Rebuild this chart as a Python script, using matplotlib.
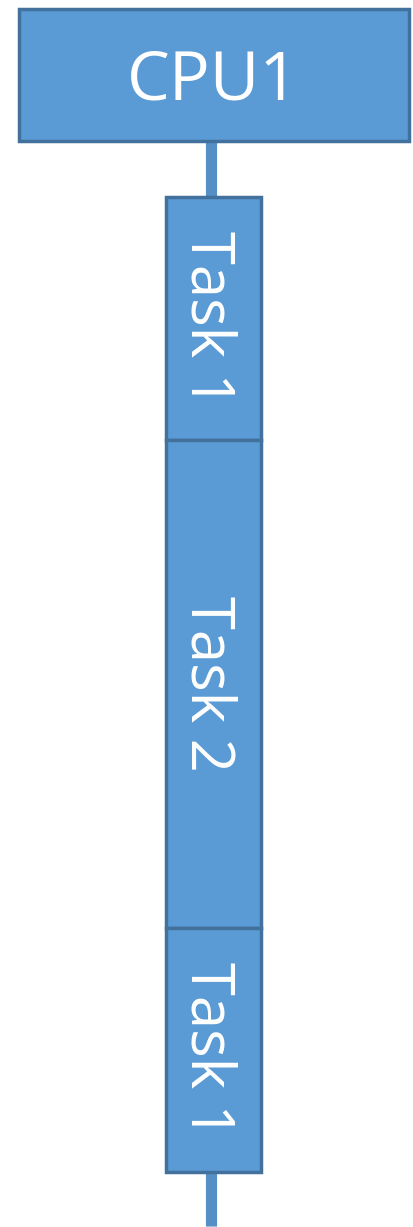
import matplotlib.pyplot as plt

# timeline of one CPU (units = pixels of the original drawing, top to bottom)
cpu_name = "CPU1"
task_names = ["Task 1", "Task 2", "Task 1"]
task_start = [197, 440, 928]
task_length = [243, 488, 244]
timeline_end = 1226

fill = "#5b9bd5"
edge = "#41719c"

fig = plt.figure(figsize=(4.13, 12.27), dpi=100)
ax = fig.add_axes([0, 0, 1, 1])
ax.set_xlim(0, 413)
ax.set_ylim(1227, 0)
ax.axis("off")

# vertical timeline
ax.plot([211, 211], [141, timeline_end], color=fill, lw=8, solid_capstyle="butt", zorder=1)
ax.plot([211, 211], [141, timeline_end], color=edge, lw=8, alpha=0.25, solid_capstyle="butt", zorder=1)

# cpu header box
ax.add_patch(plt.Rectangle((19, 9), 390, 132, facecolor=fill, edgecolor=edge, lw=2.5, zorder=2))
ax.text(213, 82, cpu_name, color="white", fontsize=49, family="Open Sans",
        ha="center", va="center", zorder=3)

# task blocks
ax.bar(213.5, task_length, bottom=task_start, width=95, color=fill,
       edgecolor=edge, linewidth=2.5, zorder=2)
for name, s, l in zip(task_names, task_start, task_length):
    ax.text(207, s + l / 2, name, color="white", fontsize=43, family="Open Sans",
            rotation=-90, ha="center", va="center", zorder=3)

fig.savefig("out.png", dpi=100, facecolor="white")
